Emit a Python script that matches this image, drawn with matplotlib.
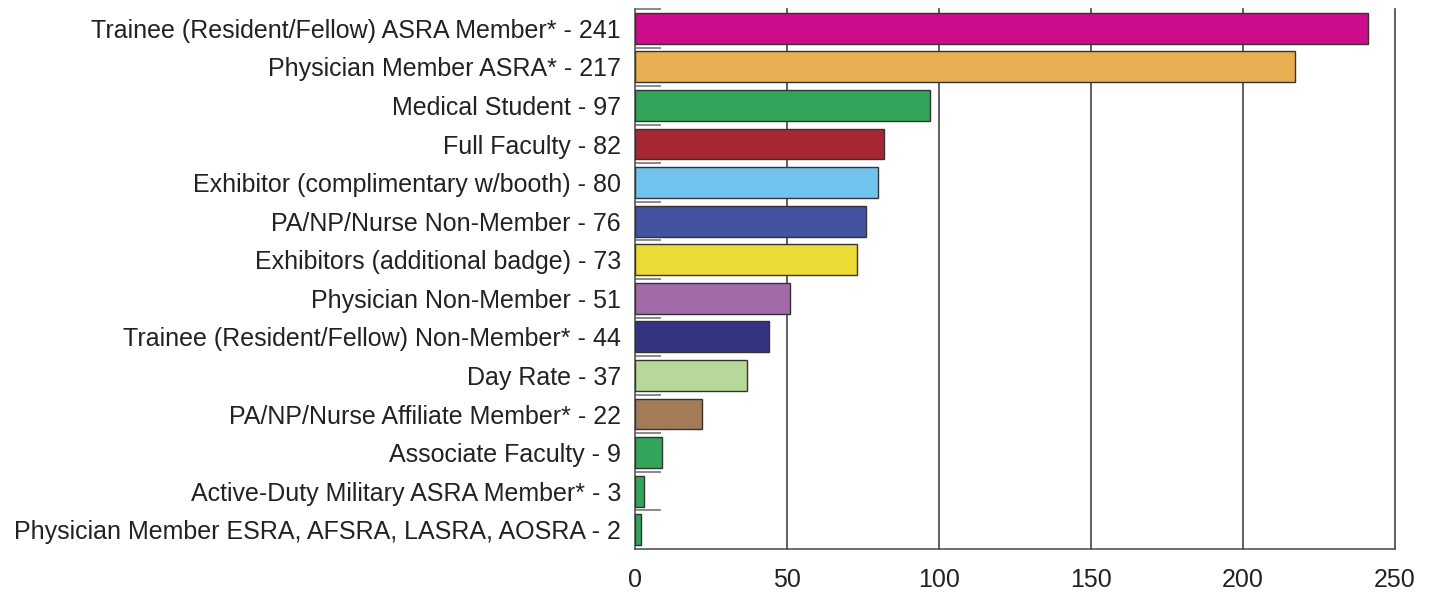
import matplotlib
matplotlib.use("Agg")
import matplotlib.pyplot as plt
import numpy as np

categories = [
    "Trainee (Resident/Fellow) ASRA Member* - 241",
    "Physician Member ASRA* - 217",
    "Medical Student - 97",
    "Full Faculty - 82",
    "Exhibitor (complimentary w/booth) - 80",
    "PA/NP/Nurse Non-Member - 76",
    "Exhibitors (additional badge) - 73",
    "Physician Non-Member - 51",
    "Trainee (Resident/Fellow) Non-Member* - 44",
    "Day Rate - 37",
    "PA/NP/Nurse Affiliate Member* - 22",
    "Associate Faculty - 9",
    "Active-Duty Military ASRA Member* - 3",
    "Physician Member ESRA, AFSRA, LASRA, AOSRA - 2",
]
values = [241, 217, 97, 82, 80, 76, 73, 51, 44, 37, 22, 9, 3, 2]
colors = ["#CC0C8A", "#E8AE52", "#33A55A", "#A62733", "#72C2EE", "#4453A0",
          "#ECDA35", "#A26AA8", "#33337F", "#B7D89A", "#A37C57", "#33A55A",
          "#33A55A", "#33A55A"]
xticks = [0, 50, 100, 150, 200, 250]

plt.rcParams['font.family'] = ['Liberation Sans', 'DejaVu Sans']

fig = plt.figure(figsize=(14.36, 5.96), dpi=100)
ax = fig.add_axes([635/1436, 1 - 549/596, (1395-635)/1436, (549-9)/596])

n = len(categories)
y = np.arange(n)
ax.barh(y, values, height=0.8, color=colors, edgecolor="#333333", linewidth=1.0, zorder=3)
ax.set_ylim(n - 0.5, -0.5)
ax.set_xlim(0, 250)

ax.set_xticks(xticks)
ax.set_xticklabels([str(t) for t in xticks], fontsize=18, color="#222222")
ax.tick_params(axis='x', length=0, pad=14)
for t in xticks[1:]:
    ax.axvline(t, color="#444444", linewidth=1.2, zorder=1, clip_on=False)

ax.set_yticks(y)
ax.set_yticklabels(categories, fontsize=18, color="#222222")
ax.tick_params(axis='y', length=0, pad=10)
# boundary tick marks
ax.set_yticks(np.arange(n) - 0.5, minor=True)
ax.tick_params(axis='y', which='minor', direction='in', length=19, width=1.2, color="#777777")

for s in ['top', 'right']:
    ax.spines[s].set_visible(False)
for s in ['left', 'bottom']:
    ax.spines[s].set_color("#555555")
    ax.spines[s].set_linewidth(1.2)

fig.savefig("out.png", dpi=100)
